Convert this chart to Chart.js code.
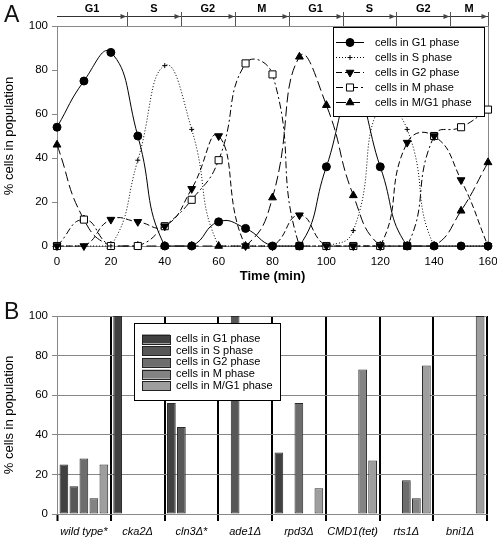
<!DOCTYPE html>
<html>
<head>
<meta charset="utf-8">
<script src="https://cdn.jsdelivr.net/npm/chart.js@4.4.0/dist/chart.umd.min.js"></script>
<style>
  body { margin: 0; background: #fff; width: 497px; height: 541px; position: relative; overflow: hidden; font-family: Arial, "Liberation Sans", sans-serif; }
  canvas { position: absolute; left: 0; }
  #chartA { top: 0; }
  #chartB { top: 292px; }
  .panel { position: absolute; left: 4px; font-size: 23px; line-height: 1; color: #111; }
</style>
</head>
<body>
<canvas id="chartA" width="497" height="292"></canvas>
<canvas id="chartB" width="497" height="249"></canvas>
<div class="panel" style="top:3px">A</div>
<div class="panel" style="top:300px">B</div>
<script>
var FONT = 'Arial, "Liberation Sans", sans-serif';

// panel A: time course
var times = [0, 10, 20, 30, 40, 50, 60, 70, 80, 90, 100, 110, 120, 130, 140, 150, 160];
var g1A  = [54, 75, 88, 50, 0, 0, 11, 8, 0, 0, 36, 70, 36, 0, 0, 0, 0];
var sA   = [0, 0, 0, 39, 82, 53, 0, 0, 0, 0, 0, 7, 64, 53, 0, 0, 0];
var g2A  = [0, 0, 12, 11, 9, 26, 50, 0, 0, 14, 0, 0, 0, 47, 50, 30, 0];
var mA   = [0, 12, 0, 0, 9, 21, 39, 83, 78, 0, 0, 0, 0, 0, 50, 54, 62];
var mg1A = [46, 12, 0, 0, 0, 0, 0, 0, 22, 86, 64, 23, 0, 0, 0, 16, 38];

var phaseNames = ['G1', 'S', 'G2', 'M', 'G1', 'S', 'G2', 'M'];
var phaseEnds = [26, 46, 66, 86, 106, 126, 146, 160];

// panel B: mutants
var strains = ['wild type*', 'cka2\u0394', 'cln3\u0394*', 'ade1\u0394', 'rpd3\u0394', 'CMD1(tet)', 'rts1\u0394', 'bni1\u0394'];
var g1B  = [25, 100, 56, 0, 31, 0, 0, 0];
var sB   = [14, 0, 44, 100, 0, 0, 0, 0];
var g2B  = [28, 0, 0, 0, 56, 0, 17, 0];
var mB   = [8, 0, 0, 0, 0, 73, 8, 0];
var mg1B = [25, 0, 0, 0, 13, 27, 75, 100];

var seriesNames = ['cells in G1 phase', 'cells in S phase', 'cells in G2 phase', 'cells in M phase', 'cells in M/G1 phase'];
var barColors = ['#414141', '#575757', '#6d6d6d', '#838383', '#9e9e9e'];

function pts(vals) {
    return vals.map(function(v, i) { return {x: times[i], y: v}; });
}

function drawMarker(c, ds, x, y) {
    var r = ds.pointRadius;
    c.save();
    c.setLineDash([]);
    c.lineWidth = 1;
    c.strokeStyle = '#000';
    c.fillStyle = ds.pointBackgroundColor;
    c.beginPath();
    if (ds.pointStyle == 'circle') {
        c.arc(x, y, r, 0, Math.PI * 2);
        c.fill(); c.stroke();
    } else if (ds.pointStyle == 'rect') {
        var s = r * Math.SQRT1_2;
        c.rect(x - s, y - s, 2 * s, 2 * s);
        c.fill(); c.stroke();
    } else if (ds.pointStyle == 'triangle') {
        var d = ds.pointRotation == 180 ? -1 : 1;
        c.moveTo(x, y - d * r);
        c.lineTo(x + r * 0.866, y + d * r * 0.5);
        c.lineTo(x - r * 0.866, y + d * r * 0.5);
        c.closePath();
        c.fill(); c.stroke();
    } else {
        c.moveTo(x - r, y); c.lineTo(x + r, y);
        c.moveTo(x, y - r); c.lineTo(x, y + r);
        c.stroke();
    }
    c.restore();
}

var extrasA = {
    id: 'extrasA',
    beforeDatasetsDraw: function(chart) {
        var c = chart.ctx, area = chart.chartArea;
        c.save();
        c.strokeStyle = '#888';
        c.lineWidth = 1;
        c.strokeRect(Math.round(area.left) + 0.5, Math.round(area.top) + 0.5, Math.round(area.right - area.left), Math.round(area.bottom - area.top));
        c.restore();
    },
    afterDraw: function(chart) {
        var c = chart.ctx, xs = chart.scales.x, area = chart.chartArea;
        c.save();
        // phase bar on top
        c.strokeStyle = '#333';
        c.lineWidth = 1;
        c.beginPath();
        c.moveTo(xs.getPixelForValue(0), 16.5);
        c.lineTo(xs.getPixelForValue(160), 16.5);
        c.stroke();
        var prev = 0;
        c.font = 'bold 11px ' + FONT;
        c.textAlign = 'center';
        c.textBaseline = 'middle';
        for (let i = 0; i < phaseEnds.length; i++) {
            var px = Math.round(xs.getPixelForValue(phaseEnds[i])) + 0.5;
            c.strokeStyle = '#555';
            c.beginPath();
            c.moveTo(px, 12);
            c.lineTo(px, area.top);
            c.stroke();
            c.fillStyle = '#444';
            c.beginPath();
            c.moveTo(px - 1, 16.5);
            c.lineTo(px - 7, 14);
            c.lineTo(px - 7, 19);
            c.closePath();
            c.fill();
            c.fillStyle = '#000';
            c.fillText(phaseNames[i], (xs.getPixelForValue(prev) + xs.getPixelForValue(phaseEnds[i])) / 2, 9);
            prev = phaseEnds[i];
        }

        // legend
        c.fillStyle = '#fff';
        c.fillRect(333, 27, 151, 89);
        c.strokeStyle = '#000';
        c.strokeRect(333.5, 27.5, 151, 89);
        c.font = '11px ' + FONT;
        c.textAlign = 'left';
        chart.data.datasets.forEach(function(ds, i) {
            var y = 42.5 + i * 15;
            c.save();
            c.strokeStyle = '#000';
            c.lineWidth = 1;
            c.setLineDash(ds.borderDash);
            c.beginPath();
            c.moveTo(336, y);
            c.lineTo(364, y);
            c.stroke();
            c.restore();
            drawMarker(c, ds, 350, y);
            c.fillStyle = '#000';
            c.fillText(ds.label, 375, y);
        });
        c.restore();
    }
};

function lineSet(i, vals, dash, style, radius, fill, rot) {
    return {
        label: seriesNames[i],
        data: pts(vals),
        borderColor: '#000',
        borderWidth: 1,
        borderDash: dash,
        pointStyle: style,
        pointRadius: radius,
        pointRotation: rot || 0,
        pointBackgroundColor: fill,
        pointBorderColor: '#000',
        pointBorderWidth: 1,
        tension: 0.5,
        clip: false,
        fill: false
    };
}

new Chart(document.getElementById('chartA'), {
    type: 'line',
    data: {
        datasets: [
            lineSet(0, g1A, [], 'circle', 4, '#000'),
            lineSet(1, sA, [1, 2], 'cross', 2.5, '#000'),
            lineSet(2, g2A, [6, 3], 'triangle', 4.5, '#000', 180),
            lineSet(3, mA, [7, 3, 2, 3], 'rect', 5, '#fff'),
            lineSet(4, mg1A, [10, 4], 'triangle', 4.5, '#000')
        ]
    },
    options: {
        responsive: false,
        animation: false,
        layout: {padding: {top: 26, right: 9, left: 0, bottom: 0}},
        plugins: {legend: {display: false}, tooltip: {enabled: false}},
        scales: {
            x: {
                type: 'linear', min: 0, max: 160,
                ticks: {stepSize: 20, color: '#000', font: {family: FONT, size: 11.5}, padding: 9},
                grid: {display: false, drawTicks: false},
                border: {color: '#888'},
                title: {display: true, text: 'Time (min)', color: '#000', font: {family: FONT, size: 13, weight: 'bold'}, padding: {top: 0, bottom: 8}},
                afterFit: function(s) { s.height = 46; s.paddingLeft = 0; s.paddingRight = 0; }
            },
            y: {
                min: 0, max: 100,
                ticks: {stepSize: 20, color: '#000', font: {family: FONT, size: 11.5}, padding: 4},
                grid: {drawOnChartArea: false, color: '#888', tickLength: 5},
                border: {color: '#888'},
                title: {display: true, text: '% cells in population', color: '#000', font: {family: FONT, size: 13}, padding: {top: 2, bottom: 0}},
                afterFit: function(s) { s.width = 57; }
            }
        }
    },
    plugins: [extrasA]
});

var legendB = {
    id: 'legendB',
    afterDraw: function(chart) {
        var c = chart.ctx;
        c.save();
        c.fillStyle = '#fff';
        c.fillRect(134, 31, 146, 77);
        c.strokeStyle = '#000';
        c.lineWidth = 1;
        c.strokeRect(134.5, 31.5, 146, 77);
        c.font = '11px ' + FONT;
        c.textBaseline = 'middle';
        chart.data.datasets.forEach(function(ds, i) {
            var y = 47 + i * 11.7;
            c.fillStyle = ds.backgroundColor;
            c.fillRect(142, y - 4.5, 28, 9);
            c.strokeStyle = '#222';
            c.strokeRect(142.5, Math.round(y - 4.5) + 0.5, 28, 9);
            c.fillStyle = '#000';
            c.fillText(ds.label, 176, y);
        });
        c.restore();
    }
};

var edge = function(c) { return c.index === 0 || c.index === strains.length; };

new Chart(document.getElementById('chartB'), {
    type: 'bar',
    data: {
        labels: strains,
        datasets: [g1B, sB, g2B, mB, mg1B].map(function(vals, i) {
            return {
                label: seriesNames[i],
                data: vals,
                backgroundColor: barColors[i],
                borderColor: '#2a2a2a',
                borderWidth: 1,
                borderSkipped: false,
                categoryPercentage: 0.93,
                barPercentage: 0.87
            };
        })
    },
    options: {
        responsive: false,
        animation: false,
        layout: {padding: {top: 24, right: 10, left: 0, bottom: 0}},
        plugins: {legend: {display: false}, tooltip: {enabled: false}},
        scales: {
            x: {
                grid: {
                    offset: true,
                    color: function(c) { return edge(c) ? '#888' : '#000'; },
                    lineWidth: function(c) { return edge(c) ? 1 : 2; },
                    tickColor: function(c) { return c.index === strains.length ? 'rgba(0,0,0,0)' : '#000'; },
                    tickWidth: 2,
                    tickLength: 7
                },
                border: {color: '#888'},
                ticks: {color: '#000', font: {family: FONT, size: 11, style: 'italic'}, padding: 4, maxRotation: 0, minRotation: 0, autoSkip: false},
                afterFit: function(s) { s.height = 27; }
            },
            y: {
                min: 0, max: 100,
                ticks: {stepSize: 20, color: '#000', font: {family: FONT, size: 11.5}, padding: 4},
                grid: {color: '#888', tickLength: 5},
                border: {color: '#888'},
                title: {display: true, text: '% cells in population', color: '#000', font: {family: FONT, size: 13}, padding: {top: 2, bottom: 0}},
                afterFit: function(s) { s.width = 57; }
            }
        }
    },
    plugins: [legendB]
});
</script>
</body>
</html>
